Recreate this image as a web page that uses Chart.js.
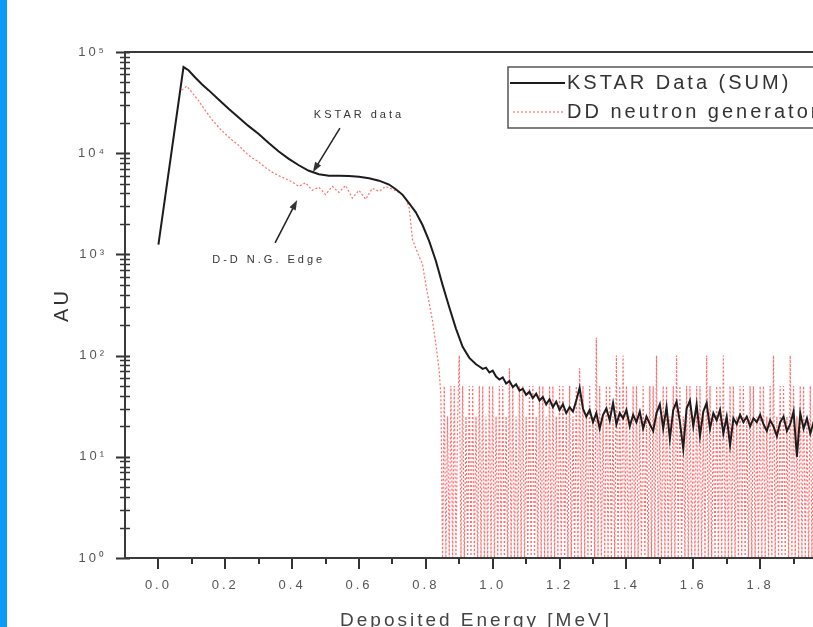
<!DOCTYPE html>
<html>
<head>
<meta charset="utf-8">
<title>KSTAR Data vs DD neutron generator</title>
<script src="https://cdn.jsdelivr.net/npm/chart.js"></script>
<style>
    html, body { margin: 0; padding: 0; width: 813px; height: 627px; overflow: hidden; background: #fff; }
    #strip { position: absolute; left: 0; top: 0; width: 7px; height: 627px; background: #0a9af8; }
    #wrap { position: absolute; left: 7px; top: 0; width: 830px; height: 640px; }
</style>
</head>
<body>
<div id="strip"></div>
<div id="wrap"><canvas id="spectrum" width="830" height="640"></canvas></div>
<script>
// Series names
const seriesLabels = ["KSTAR Data (SUM)", "DD neutron generator"];

// KSTAR data (SUM): deposited energy [MeV] and counts (AU)
const kstarEnergy = [
    0.00, 0.075, 0.09, 0.11, 0.13, 0.15, 0.18, 0.21, 0.24, 0.27,
    0.30, 0.33, 0.36, 0.39, 0.42, 0.45, 0.48, 0.51, 0.54, 0.57,
    0.60, 0.63, 0.66, 0.69, 0.71, 0.73, 0.75, 0.77, 0.79, 0.81,
    0.83, 0.85, 0.87, 0.89, 0.91, 0.93, 0.95,
    0.96, 0.97, 0.98, 0.99, 1.00, 1.01, 1.02, 1.03, 1.04, 1.05,
    1.06, 1.07, 1.08, 1.09, 1.10, 1.11, 1.12, 1.13, 1.14, 1.15,
    1.16, 1.17, 1.18, 1.19, 1.20, 1.21, 1.22, 1.23, 1.24, 1.25,
    1.26, 1.27, 1.28, 1.29, 1.30, 1.31, 1.32, 1.33, 1.34, 1.35,
    1.36, 1.37, 1.38, 1.39, 1.40, 1.41, 1.42, 1.43, 1.44, 1.45,
    1.46, 1.47, 1.48, 1.49, 1.50, 1.51, 1.52, 1.53, 1.54, 1.55,
    1.56, 1.57, 1.58, 1.59, 1.60, 1.61, 1.62, 1.63, 1.64, 1.65,
    1.66, 1.67, 1.68, 1.69, 1.70, 1.71, 1.72, 1.73, 1.74, 1.75,
    1.76, 1.77, 1.78, 1.79, 1.80, 1.81, 1.82, 1.83, 1.84, 1.85,
    1.86, 1.87, 1.88, 1.89, 1.90, 1.91, 1.92, 1.93, 1.94, 1.95,
    1.96, 1.97, 1.98, 1.99, 2.00
];
const kstarCounts = [
    1250, 71000, 66000, 56000, 48000, 42000, 34000, 27500, 22500, 18500,
    15500, 12600, 10400, 8800, 7600, 6700, 6200, 6000, 6000, 5950,
    5850, 5650, 5350, 4900, 4400, 3900, 3200, 2600, 1950, 1350,
    860, 500, 300, 185, 122, 95, 82,
    78, 74, 76, 68, 71, 62, 58, 61, 53, 56,
    49, 52, 45, 47, 41, 44, 38, 42, 36, 39,
    33, 37, 31, 35, 29, 33, 27, 31, 28, 36,
    48, 30, 25, 29, 22, 27, 19, 26, 30, 23,
    34, 21, 27, 24, 29, 20, 26, 22, 28, 19,
    25, 21, 18, 27, 33, 19, 31, 15, 29, 35,
    22, 12, 30, 36, 20, 33, 16, 28, 34, 19,
    27, 23, 29, 17, 25, 13, 24, 21, 26, 22,
    25, 20, 24, 22, 26, 21, 18, 23, 20, 16,
    22, 25, 18, 21, 28, 10, 27, 19, 24, 17,
    22, 20, 26, 18, 21
];

// DD neutron generator: deposited energy [MeV] and counts (AU), 1 = empty channel
const ddEnergy = [
    0.07, 0.085, 0.10,
    0.12, 0.14, 0.16, 0.18, 0.20, 0.22, 0.24, 0.26, 0.28, 0.30,
    0.32, 0.34, 0.36, 0.38, 0.40, 0.42, 0.44, 0.46, 0.48, 0.50,
    0.52, 0.54, 0.56, 0.58, 0.60, 0.62, 0.64, 0.66, 0.68, 0.70,
    0.72, 0.74, 0.75, 0.76, 0.77, 0.78, 0.79, 0.80, 0.81, 0.82,
    0.83, 0.84, 0.845,
    0.850, 0.855, 0.860, 0.865, 0.870, 0.875, 0.880, 0.885, 0.890, 0.895,
    0.900, 0.905, 0.910, 0.915, 0.920, 0.925, 0.930, 0.935, 0.940, 0.945,
    0.950, 0.955, 0.960, 0.965, 0.970, 0.975, 0.980, 0.985, 0.990, 0.995,
    1.000, 1.005, 1.010, 1.015, 1.020, 1.025, 1.030, 1.035, 1.040, 1.045,
    1.050, 1.055, 1.060, 1.065, 1.070, 1.075, 1.080, 1.085, 1.090, 1.095,
    1.100, 1.105, 1.110, 1.115, 1.120, 1.125, 1.130, 1.135, 1.140, 1.145,
    1.150, 1.155, 1.160, 1.165, 1.170, 1.175, 1.180, 1.185, 1.190, 1.195,
    1.200, 1.205, 1.210, 1.215, 1.220, 1.225, 1.230, 1.235, 1.240, 1.245,
    1.250, 1.255, 1.260, 1.265, 1.270, 1.275, 1.280, 1.285, 1.290, 1.295,
    1.300, 1.305, 1.310, 1.315, 1.320, 1.325, 1.330, 1.335, 1.340, 1.345,
    1.350, 1.355, 1.360, 1.365, 1.370, 1.375, 1.380, 1.385, 1.390, 1.395,
    1.400, 1.405, 1.410, 1.415, 1.420, 1.425, 1.430, 1.435, 1.440, 1.445,
    1.450, 1.455, 1.460, 1.465, 1.470, 1.475, 1.480, 1.485, 1.490, 1.495,
    1.500, 1.505, 1.510, 1.515, 1.520, 1.525, 1.530, 1.535, 1.540, 1.545,
    1.550, 1.555, 1.560, 1.565, 1.570, 1.575, 1.580, 1.585, 1.590, 1.595,
    1.600, 1.605, 1.610, 1.615, 1.620, 1.625, 1.630, 1.635, 1.640, 1.645,
    1.650, 1.655, 1.660, 1.665, 1.670, 1.675, 1.680, 1.685, 1.690, 1.695,
    1.700, 1.705, 1.710, 1.715, 1.720, 1.725, 1.730, 1.735, 1.740, 1.745,
    1.750, 1.755, 1.760, 1.765, 1.770, 1.775, 1.780, 1.785, 1.790, 1.795,
    1.800, 1.805, 1.810, 1.815, 1.820, 1.825, 1.830, 1.835, 1.840, 1.845,
    1.850, 1.855, 1.860, 1.865, 1.870, 1.875, 1.880, 1.885, 1.890, 1.895,
    1.900, 1.905, 1.910, 1.915, 1.920, 1.925, 1.930, 1.935, 1.940, 1.945,
    1.950, 1.955, 1.960, 1.965, 1.970, 1.975, 1.980, 1.985, 1.990, 1.995,
    2.000
];
const ddCounts = [
    42000, 46000, 40000,
    33000, 26500, 21500, 18000, 15500, 13500, 12000, 10200, 9000, 8200,
    7200, 6500, 6000, 5600, 5200, 4700, 5100, 4300, 4600, 3900,
    4700, 4100, 4800, 3600, 4300, 3500, 4500, 4200, 4700, 4400,
    4100, 3600, 2900, 1400, 1150, 950, 800, 500, 330, 220,
    130, 70, 40,
    1, 50, 1, 25, 1, 50, 1, 50, 1, 25,
    100, 1, 50, 1, 25, 1, 50, 1, 50, 1,
    25, 1, 50, 1, 50, 1, 25, 1, 50, 1,
    50, 1, 25, 1, 50, 1, 50, 1, 25, 1,
    75, 1, 50, 1, 25, 1, 50, 1, 50, 1,
    25, 1, 50, 1, 50, 1, 25, 1, 50, 1,
    50, 1, 25, 1, 50, 1, 50, 1, 25, 1,
    50, 1, 50, 1, 25, 1, 50, 1, 25, 1,
    50, 1, 75, 1, 50, 1, 25, 1, 50, 1,
    25, 1, 150, 1, 50, 1, 25, 1, 50, 1,
    50, 1, 25, 1, 100, 1, 50, 1, 100, 1,
    50, 1, 25, 1, 50, 1, 50, 1, 25, 1,
    50, 1, 25, 1, 50, 1, 50, 1, 100, 1,
    25, 1, 50, 1, 50, 1, 25, 1, 50, 1,
    100, 1, 50, 1, 25, 1, 50, 1, 50, 1,
    25, 1, 50, 1, 50, 1, 25, 1, 100, 1,
    50, 1, 25, 1, 50, 1, 50, 1, 100, 1,
    25, 1, 50, 1, 50, 1, 25, 1, 50, 1,
    50, 1, 25, 1, 50, 1, 50, 1, 25, 1,
    50, 1, 50, 1, 25, 1, 50, 1, 100, 1,
    25, 1, 50, 1, 50, 1, 25, 1, 100, 1,
    50, 1, 25, 1, 50, 1, 50, 1, 25, 1,
    50, 1, 50, 1, 25, 1, 50, 1, 50, 1,
    25
];

// Axis ranges
const energyRange = [-0.1, 2.0];
const countRange = [1, 100000];
const energyStep = 0.1;

// Text labels with arrows on the plot (data coordinates)
const noteLabels = [
    { text: "KSTAR data", x: 0.60, y: 23800 },
    { text: "D-D N.G. Edge", x: 0.33, y: 880 }
];
const noteArrows = [
    { fromX: 0.543, fromY: 17700, toX: 0.462, toY: 6500 },
    { fromX: 0.349, fromY: 1300, toX: 0.415, toY: 3450 }
];

const FONT = "'Liberation Sans', Arial, sans-serif";
const SUP = "⁰¹²³⁴⁵⁶⁷⁸⁹";

function toPoints(xs, ys) {
    return xs.map((x, i) => ({ x: x, y: ys[i] }));
}

// Draw an arrow between two pixel points
function drawArrow(ctx, x1, y1, x2, y2) {
    const ang = Math.atan2(y2 - y1, x2 - x1);
    const c = Math.cos(ang), s = Math.sin(ang);
    ctx.beginPath();
    ctx.moveTo(x1, y1);
    ctx.lineTo(x2 - 6 * c, y2 - 6 * s);
    ctx.stroke();
    ctx.beginPath();
    ctx.moveTo(x2, y2);
    ctx.lineTo(x2 - 10 * c + 3.5 * s, y2 - 10 * s - 3.5 * c);
    ctx.lineTo(x2 - 10 * c - 3.5 * s, y2 - 10 * s + 3.5 * c);
    ctx.closePath();
    ctx.fill();
}

// Wide letter spacing for every text, like the original figure
const spacingPlugin = {
    id: "spacing",
    beforeDraw(chart) {
        chart.ctx.letterSpacing = "3px";
    }
};

// Frame, tick marks, notes and legend box
const decorPlugin = {
    id: "decor",
    afterDraw(chart) {
        const ctx = chart.ctx;
        const area = chart.chartArea;
        const xs = chart.scales.x;
        const ys = chart.scales.y;
        ctx.save();

        // y tick marks (1..9 x 10^n)
        ctx.strokeStyle = "#333";
        ys.ticks.forEach(t => {
            const p = Math.floor(Math.log10(t.value) + 1e-9);
            const m = t.value / Math.pow(10, p);
            if (Math.abs(m - Math.round(m)) > 1e-6) return;
            const py = Math.round(ys.getPixelForValue(t.value)) + 0.5;
            const major = Math.round(m) === 1;
            ctx.lineWidth = major ? 2 : 1.5;
            ctx.beginPath();
            ctx.moveTo(area.left - (major ? 9 : 5), py);
            ctx.lineTo(area.left + 5, py);
            ctx.stroke();
        });

        // x tick marks
        xs.ticks.forEach(t => {
            const px = Math.round(xs.getPixelForValue(t.value));
            if (px <= area.left + 1) return;
            const major = Math.round(t.value * 10) % 2 === 0;
            ctx.lineWidth = 2;
            ctx.beginPath();
            ctx.moveTo(px, area.bottom);
            ctx.lineTo(px, area.bottom + (major ? 11 : 6));
            ctx.stroke();
        });

        // frame
        ctx.lineWidth = 2;
        ctx.strokeStyle = "#3a3a3a";
        ctx.strokeRect(area.left, area.top, area.right - area.left, area.bottom - area.top);

        // notes with arrows
        ctx.fillStyle = "#333";
        ctx.strokeStyle = "#222";
        ctx.lineWidth = 1.5;
        ctx.font = "11px " + FONT;
        ctx.letterSpacing = "3px";
        ctx.textAlign = "center";
        ctx.textBaseline = "middle";
        noteLabels.forEach(n => {
            ctx.fillText(n.text, xs.getPixelForValue(n.x), ys.getPixelForValue(n.y));
        });
        noteArrows.forEach(a => {
            drawArrow(ctx,
                xs.getPixelForValue(a.fromX), ys.getPixelForValue(a.fromY),
                xs.getPixelForValue(a.toX), ys.getPixelForValue(a.toY));
        });

        // legend
        const lx = area.left + 383;
        const ly = area.top + 15;
        ctx.lineWidth = 1.5;
        ctx.strokeStyle = "#555";
        ctx.strokeRect(lx, ly, 400, 61);
        ctx.font = "20px " + FONT;
        ctx.textAlign = "left";
        ctx.fillStyle = "#333";
        chart.data.datasets.forEach((ds, i) => {
            const y = ly + 16 + i * 29;
            ctx.save();
            ctx.strokeStyle = ds.borderColor;
            ctx.lineWidth = ds.borderWidth;
            ctx.setLineDash(ds.borderDash || []);
            ctx.beginPath();
            ctx.moveTo(lx + 2 + i * 3, y);
            ctx.lineTo(lx + 57 - i * 2, y);
            ctx.stroke();
            ctx.restore();
            ctx.fillText(ds.label, lx + 59, y);
        });

        ctx.restore();
    }
};

function createSpectrumChart() {
    const ctx = document.getElementById("spectrum").getContext("2d");

    window.spectrumChart = new Chart(ctx, {
        type: "line",
        data: {
            datasets: [
                {
                    label: seriesLabels[0],
                    data: toPoints(kstarEnergy, kstarCounts),
                    borderColor: "#1c1c1c",
                    borderWidth: 2,
                    pointRadius: 0,
                    tension: 0
                },
                {
                    label: seriesLabels[1],
                    data: toPoints(ddEnergy, ddCounts),
                    borderColor: "rgba(255, 45, 45, 0.7)",
                    borderWidth: 1.2,
                    borderDash: [2, 2],
                    pointRadius: 0,
                    tension: 0
                }
            ]
        },
        options: {
            responsive: false,
            animation: false,
            layout: { padding: { top: 52, right: 10, left: 0, bottom: 0 } },
            plugins: {
                legend: { display: false },
                tooltip: { enabled: false }
            },
            scales: {
                x: {
                    type: "linear",
                    min: energyRange[0],
                    max: energyRange[1],
                    afterFit: s => { s.height = 82; s.paddingLeft = 0; s.paddingRight = 0; },
                    grid: { display: false, drawTicks: false },
                    border: { display: false },
                    ticks: {
                        stepSize: energyStep,
                        autoSkip: false,
                        maxRotation: 0,
                        padding: 20,
                        color: "#555",
                        font: { family: FONT, size: 13 },
                        callback: v => (v >= -1e-9 && Math.round(v * 10) % 2 === 0) ? Math.abs(v).toFixed(1) : ""
                    },
                    title: {
                        display: true,
                        text: "Deposited Energy [MeV]",
                        color: "#444",
                        font: { family: FONT, size: 19 },
                        padding: { top: 0, bottom: 8 }
                    }
                },
                y: {
                    type: "logarithmic",
                    min: countRange[0],
                    max: countRange[1],
                    afterFit: s => { s.width = 118; },
                    grid: { display: false, drawTicks: false },
                    border: { display: false },
                    ticks: {
                        autoSkip: false,
                        padding: 18,
                        color: "#555",
                        font: { family: FONT, size: 13 },
                        callback: v => {
                            const p = Math.log10(v);
                            return Math.abs(p - Math.round(p)) < 1e-9 ? "10" + SUP[Math.round(p)] : "";
                        }
                    },
                    title: {
                        display: true,
                        text: "AU",
                        color: "#333",
                        font: { family: FONT, size: 20 },
                        padding: { top: 43, bottom: 0 }
                    }
                }
            }
        },
        plugins: [spacingPlugin, decorPlugin]
    });
}

document.addEventListener("DOMContentLoaded", createSpectrumChart);
</script>
</body>
</html>
